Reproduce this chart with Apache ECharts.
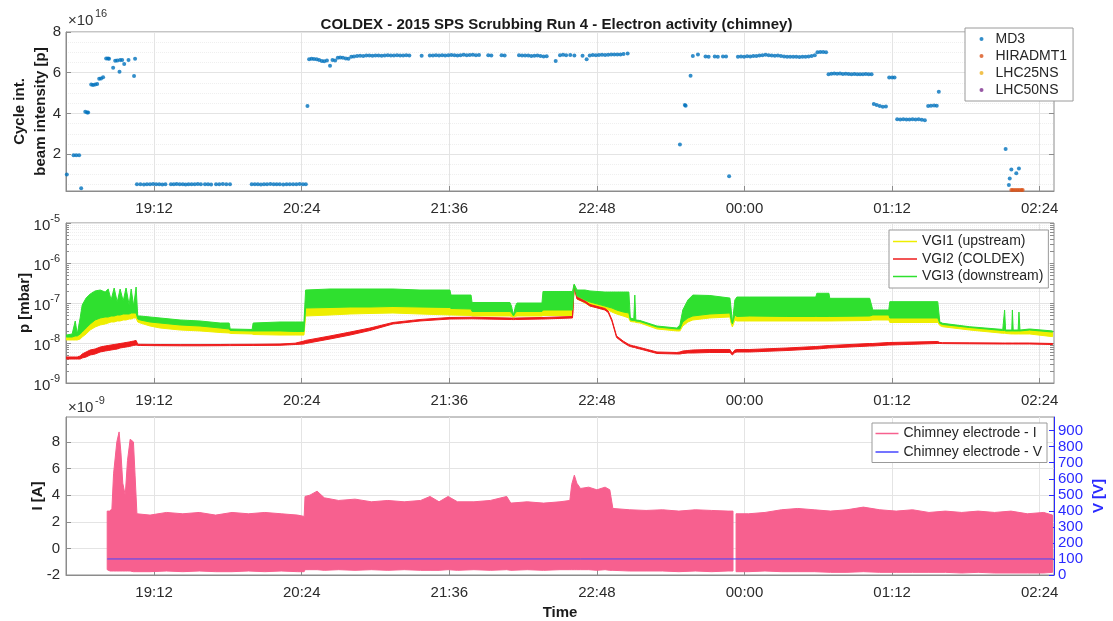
<!DOCTYPE html>
<html><head><meta charset="utf-8">
<script src="https://cdn.jsdelivr.net/npm/echarts@6/dist/echarts.min.js"></script>
<style>html,body{margin:0;padding:0;background:#fff}#c{width:1113px;height:621px}</style>
</head><body><div id="c"></div>
<script>
// ===================== DATA =====================
// time in minutes after midnight of the first day (24:00 = 1440)
const timeTicks = [1152, 1224, 1296, 1368, 1440, 1512, 1584];
const beamTicks = [2, 4, 6, 8];              // x1e16 p
const currentTicks = [-2, 0, 2, 4, 6, 8];    // x1e-9 A
const voltTicks = [0, 100, 200, 300, 400, 500, 600, 700, 800, 900];

// ---- Panel 1: cycle-integrated beam intensity (x1e16 p) ----
const md3Time = [
 1109.4,1112.7,1114.0,1115.4,1116.4,1118.4,1119.3,1119.8,1121.3,1122.2,1123.2,1124.2,1125.2,1126.1,1127.1,
 1128.6,1129.5,1130.0,1132.0,1133.0,1134.0,1135.1,1135.4,1136.4,1137.4,1139.5,1142.2,1142.7,
 1143.6,1145.3,1147.0,1148.5,1150.0,1151.5,1153.0,1154.5,1156.0,1157.5,1160.2,1161.6,1163.0,1164.5,1166.0,
 1167.4,1168.8,1170.3,1171.8,1173.3,1174.8,1176.8,1178.3,1179.8,1182.2,1183.8,1185.5,1187.2,1189.0,
 1199.6,1201.1,1202.6,1204.1,1205.6,1207.1,1208.7,1210.3,1211.8,1213.3,1215.0,1216.6,1218.2,1219.8,1221.4,
 1223.0,1224.6,1226.0,1226.8,
 1227.6,1228.8,1230.0,1231.3,1232.5,1233.8,1235.0,1236.3,1237.8,1239.0,1240.3,1241.6,1242.8,1244.1,1245.5,
 1246.8,1248.2,1249.5,1251.0,1252.5,1254.0,1255.5,1257.0,1258.5,1260,1261.5,1263,1264.5,1266,1267.5,1269,
 1270.5,1272,1273.5,1275,1276.5,1282.5,1286.5,1288,1289.5,1291,1292.5,1294,1295.5,1297,1298.5,1300,1301.5,
 1303,1304.5,1306,1307.5,1309,1310.5,1315,1316.5,1321.5,1323,1330,1331.5,1333,1334.5,1336,1337.5,1339,
 1340.5,1342,1343.5,1347.9,1350,1351.5,1353,1355,1357,1361,1363,1364.5,1366,1367.5,1369,1370.5,1372,
 1373.5,1375,1376.5,1378,1379.5,1381,1383,
 1408.5,1410.9,1411.3,1413.7,1414.8,1417.3,1421,1422.5,1425.5,1427,1429.5,1431,1432.5,
 1436.8,1438.3,1439.8,1441.3,1442.8,1444.3,1445.8,1447.3,1448.8,1450.3,1451.8,1453.3,1454.8,1456.3,1457.8,
 1459.3,1460.8,1462.3,1463.8,1465.3,1466.8,1468.3,1469.8,1471.3,1472.8,1474.3,1475.6,1477,1478.4,1479.8,
 1481,1482.4,1483.8,1485.2,1486.6,1488,1489.4,1490.8,1492.2,1493.6,1495,1496.4,1497.8,1499.2,1500.6,1502,
 1503.1,1504.5,1506,1507.5,1509,1510.6,1512,1513.2,
 1514.5,1516,1517.5,1519,1520.5,1522,1523.5,1525,1526.5,1528,1529.6,1531,1532.5,1533.8,1534.8,
 1567.4,1569.0,1569.4,1570.2,1572.6,1573.9
];
const md3Int = [
 1.0,1.95,1.95,1.95,0.32,4.08,4.05,4.05,5.42,5.40,5.42,5.45,5.70,5.72,5.78,
 6.70,6.70,6.68,6.25,6.59,6.60,6.05,6.62,6.63,6.43,6.62,5.84,6.69,
 0.52,0.52,0.51,0.52,0.52,0.53,0.52,0.52,0.51,0.52,0.52,0.52,0.53,0.52,0.52,
 0.51,0.52,0.52,0.52,0.53,0.52,0.52,0.52,0.51,0.52,0.52,0.53,0.52,0.52,
 0.52,0.52,0.52,0.51,0.52,0.52,0.53,0.52,0.52,0.52,0.51,0.52,0.52,0.52,0.52,
 0.53,0.52,0.52,4.36,
 6.66,6.68,6.67,6.66,6.62,6.58,6.56,6.60,6.34,6.62,6.60,6.74,6.75,6.74,6.70,
 6.68,6.78,6.80,6.82,6.83,6.82,6.84,6.84,6.83,6.84,6.85,6.83,6.85,6.86,6.84,6.85,
 6.86,6.84,6.85,6.86,6.84,6.83,6.84,6.85,6.86,6.84,6.86,6.85,6.86,6.87,6.86,6.85,6.86,
 6.88,6.86,6.87,6.88,6.86,6.87,6.86,6.85,6.86,6.84,6.86,6.85,6.84,6.85,6.82,6.83,6.84,
 6.82,6.80,6.81,6.57,6.86,6.88,6.86,6.87,6.85,6.83,6.66,6.85,6.87,6.86,6.87,6.88,6.87,
 6.88,6.89,6.90,6.89,6.90,6.92,6.94,
 2.48,4.41,4.38,5.85,6.82,6.90,6.80,6.78,6.80,6.79,6.80,6.80,0.92,
 6.78,6.80,6.79,6.81,6.80,6.82,6.82,6.84,6.86,6.88,6.86,6.84,6.83,6.84,6.82,
 6.80,6.78,6.78,6.79,6.78,6.77,6.78,6.79,6.80,6.82,6.86,7.00,7.02,7.02,7.00,
 5.92,5.95,5.96,5.95,5.96,5.94,5.95,5.94,5.93,5.94,5.93,5.92,5.93,5.94,5.93,5.92,
 4.46,4.42,4.36,4.33,4.34,5.77,5.76,5.77,
 3.72,3.70,3.71,3.70,3.70,3.71,3.70,3.71,3.69,3.66,4.36,4.38,4.39,4.38,5.07,
 2.25,0.48,0.81,1.25,1.06,1.30
];
const hiradTime = [1570.2, 1571.0, 1572.0, 1573.0, 1574.0, 1575.0, 1575.7];
const hiradInt  = [0.24, 0.24, 0.24, 0.24, 0.24, 0.24, 0.24];
const lhc25Time = [], lhc25Int = [];
const lhc50Time = [], lhc50Int = [];

// ---- Panel 2: pressures (mbar); noisy gauges given as lower/upper envelopes ----
const pTime = [
 1109.1,1112.0,1113.5,1114.5,1115.9,1116.9,1118.8,1120.8,1123.2,1125.7,1128.1,1129.6,1131.0,1132.5,1134.0,
 1135.4,1136.9,1138.3,1139.8,1140.8,1142.0,1143.2,1144.0,1145.2,1150.0,1154.9,1164.7,1174.4,1184.2,1188.6,
 1189.1,1199.8,1200.3,1213.4,1220.8,1225.1,1225.9,1237.8,1247.6,1257.3,1268.5,1281.7,1296.3,1296.8,1306.6,
 1307.1,1325.6,1326.3,1327.3,1328.3,1329.0,1341.2,1341.7,1356.1,1356.9,1358.3,1362.2,1364.6,1371.9,1373.5,
 1375.3,1377.6,1380.8,1383.6,1384.3,1386.0,1386.5,1387.0,1389.0,1397.3,1407.0,1408.5,1409.9,1412.4,1414.8,
 1423.1,1432.9,1433.3,1434.1,1435.3,1436.3,1442.6,1460.7,1474.8,1475.3,1481.2,1481.6,1501.1,1502.6,1510.4,
 1510.9,1534.3,1535.3,1536.7,1549.9,1566.0,1566.9,1567.4,1570.4,1570.7,1571.1,1573.5,1573.9,1574.4,1579.1,
 1590.3
];
const vgi3Hi = [
 1.58e-8,1.68e-8,3.55e-8,1.68e-8,4.22e-8,8.91e-8,1.33e-7,1.68e-7,2.00e-7,2.11e-7,1.88e-7,2.24e-7,1.19e-7,2.37e-7,1.06e-7,
 2.24e-7,1.12e-7,2.37e-7,8.91e-8,2.24e-7,8.41e-8,2.51e-7,4.73e-8,4.73e-8,4.47e-8,4.22e-8,3.76e-8,3.55e-8,3.16e-8,3.16e-8,
 2.24e-8,2.18e-8,3.16e-8,3.35e-8,3.35e-8,3.35e-8,2.11e-7,2.24e-7,2.24e-7,2.24e-7,2.24e-7,2.11e-7,2.11e-7,1.58e-7,1.58e-7,
 1.03e-7,1.03e-7,8.41e-8,5.01e-8,8.41e-8,1.00e-7,1.00e-7,1.94e-7,1.94e-7,2.99e-7,2.11e-7,2.11e-7,2.00e-7,1.88e-7,1.88e-7,
 1.88e-7,1.88e-7,1.88e-7,1.88e-7,4.22e-8,3.98e-8,1.58e-7,3.76e-8,3.65e-8,2.66e-8,2.37e-8,2.82e-8,6.68e-8,1.19e-7,1.58e-7,
 1.54e-7,1.33e-7,8.91e-8,3.16e-8,1.19e-7,1.41e-7,1.41e-7,1.41e-7,1.41e-7,1.75e-7,1.75e-7,1.31e-7,1.31e-7,6.68e-8,6.68e-8,
 1.08e-7,1.08e-7,3.35e-8,3.11e-8,2.55e-8,2.18e-8,6.68e-8,2.11e-8,2.11e-8,6.68e-8,2.11e-8,2.11e-8,5.96e-8,2.11e-8,2.24e-8,
 2.00e-8
];
const vgi3Lo = [
 1.41e-8,1.41e-8,1.50e-8,1.50e-8,1.68e-8,1.88e-8,2.37e-8,2.99e-8,3.76e-8,4.22e-8,4.47e-8,4.47e-8,4.73e-8,4.73e-8,5.01e-8,
 5.01e-8,5.31e-8,5.31e-8,5.31e-8,5.62e-8,5.62e-8,5.62e-8,3.98e-8,3.76e-8,3.35e-8,3.16e-8,2.82e-8,2.66e-8,2.37e-8,2.24e-8,
 2.05e-8,2.00e-8,2.00e-8,2.00e-8,1.94e-8,1.94e-8,7.50e-8,7.72e-8,7.94e-8,7.94e-8,8.18e-8,7.94e-8,7.72e-8,7.29e-8,7.08e-8,
 6.13e-8,6.13e-8,5.79e-8,4.73e-8,5.79e-8,6.13e-8,6.13e-8,6.68e-8,6.68e-8,2.66e-7,1.50e-7,1.19e-7,1.06e-7,8.41e-8,7.94e-8,
 7.50e-8,6.68e-8,5.96e-8,5.62e-8,3.76e-8,3.65e-8,3.65e-8,3.55e-8,3.45e-8,2.51e-8,2.24e-8,2.24e-8,3.35e-8,4.22e-8,4.73e-8,
 5.31e-8,5.62e-8,4.22e-8,2.99e-8,5.01e-8,4.60e-8,4.73e-8,4.60e-8,4.60e-8,4.60e-8,4.60e-8,4.60e-8,4.73e-8,5.01e-8,5.01e-8,
 4.22e-8,4.22e-8,3.08e-8,2.90e-8,2.44e-8,2.05e-8,2.05e-8,2.00e-8,2.00e-8,2.00e-8,2.00e-8,2.00e-8,2.00e-8,2.00e-8,2.11e-8,
 1.88e-8
];
const vgi1Hi = vgi3Lo; // upstream band reaches up to the downstream band
const vgi1Lo = [
 1.19e-8,1.19e-8,1.19e-8,1.19e-8,1.26e-8,1.41e-8,1.68e-8,2.11e-8,2.51e-8,2.82e-8,2.99e-8,3.16e-8,3.35e-8,3.35e-8,3.55e-8,
 3.55e-8,3.76e-8,3.76e-8,3.98e-8,3.98e-8,4.22e-8,4.22e-8,3.35e-8,3.16e-8,2.66e-8,2.37e-8,2.11e-8,2.00e-8,1.83e-8,1.78e-8,
 1.73e-8,1.68e-8,1.63e-8,1.58e-8,1.58e-8,1.58e-8,4.73e-8,5.01e-8,5.31e-8,5.47e-8,5.62e-8,5.31e-8,5.01e-8,5.01e-8,4.87e-8,
 4.73e-8,4.73e-8,4.60e-8,4.35e-8,4.60e-8,4.73e-8,4.73e-8,4.87e-8,4.87e-8,2.51e-7,1.26e-7,1.00e-7,8.41e-8,7.08e-8,6.68e-8,
 5.96e-8,5.31e-8,4.73e-8,4.22e-8,3.45e-8,3.35e-8,3.35e-8,3.26e-8,3.16e-8,2.24e-8,2.00e-8,2.00e-8,2.66e-8,3.35e-8,3.76e-8,
 4.22e-8,4.47e-8,3.35e-8,2.51e-8,3.76e-8,3.55e-8,3.55e-8,3.55e-8,3.55e-8,3.55e-8,3.55e-8,3.55e-8,3.65e-8,3.76e-8,3.76e-8,
 3.26e-8,3.26e-8,2.74e-8,2.55e-8,2.11e-8,1.75e-8,1.75e-8,1.73e-8,1.68e-8,1.68e-8,1.68e-8,1.68e-8,1.68e-8,1.68e-8,1.68e-8,
 1.44e-8
];
const vgi2Hi = [
 4.47e-9,4.47e-9,4.47e-9,4.47e-9,4.73e-9,5.31e-9,5.96e-9,6.68e-9,7.08e-9,7.94e-9,8.41e-9,8.66e-9,8.91e-9,9.17e-9,9.44e-9,
 9.72e-9,1.00e-8,1.03e-8,1.06e-8,1.09e-8,1.12e-8,1.16e-8,9.33e-9,9.28e-9,9.23e-9,9.17e-9,9.12e-9,9.12e-9,9.17e-9,9.23e-9,
 9.23e-9,9.28e-9,9.28e-9,9.44e-9,9.89e-9,1.12e-8,1.16e-8,1.50e-8,1.88e-8,2.37e-8,3.26e-8,3.87e-8,4.35e-8,4.35e-8,4.40e-8,
 4.40e-8,4.22e-8,4.22e-8,4.17e-8,4.22e-8,4.22e-8,4.35e-8,4.35e-8,4.60e-8,2.82e-7,1.41e-7,1.12e-7,9.17e-8,7.29e-8,6.31e-8,
 3.87e-8,1.50e-8,1.12e-8,9.17e-9,8.91e-9,8.41e-9,8.41e-9,8.18e-9,7.72e-9,5.96e-9,5.79e-9,5.96e-9,6.31e-9,6.49e-9,6.68e-9,
 6.88e-9,6.88e-9,6.31e-9,5.62e-9,6.68e-9,6.88e-9,6.88e-9,7.50e-9,8.18e-9,8.18e-9,8.66e-9,8.66e-9,9.72e-9,9.72e-9,1.03e-8,
 1.03e-8,1.09e-8,1.03e-8,1.02e-8,1.01e-8,1.00e-8,1.00e-8,1.00e-8,1.00e-8,1.00e-8,1.00e-8,1.00e-8,1.00e-8,1.00e-8,1.00e-8,
 9.72e-9
];
const vgi2Lo = [
 3.98e-9,3.98e-9,3.98e-9,3.98e-9,3.98e-9,4.22e-9,4.47e-9,5.01e-9,5.31e-9,5.96e-9,6.31e-9,6.49e-9,6.68e-9,6.88e-9,7.08e-9,
 7.50e-9,7.72e-9,7.94e-9,8.18e-9,8.41e-9,8.66e-9,8.91e-9,8.71e-9,8.66e-9,8.61e-9,8.56e-9,8.51e-9,8.51e-9,8.56e-9,8.61e-9,
 8.61e-9,8.66e-9,8.66e-9,8.76e-9,9.17e-9,9.44e-9,9.72e-9,1.26e-8,1.58e-8,2.05e-8,2.99e-8,3.55e-8,3.98e-8,3.98e-8,4.03e-8,
 4.03e-8,3.87e-8,3.87e-8,3.85e-8,3.87e-8,3.87e-8,3.98e-8,3.98e-8,4.22e-8,2.51e-7,1.26e-7,1.03e-7,8.41e-8,6.68e-8,5.79e-8,
 3.55e-8,1.37e-8,1.03e-8,8.41e-9,8.18e-9,7.72e-9,7.72e-9,7.50e-9,7.08e-9,5.47e-9,5.31e-9,5.31e-9,5.47e-9,5.62e-9,5.62e-9,
 5.79e-9,5.79e-9,5.47e-9,5.01e-9,5.79e-9,5.96e-9,5.96e-9,6.49e-9,7.08e-9,7.08e-9,7.50e-9,7.50e-9,8.41e-9,8.41e-9,8.91e-9,
 8.91e-9,9.72e-9,9.72e-9,9.66e-9,9.55e-9,9.44e-9,9.44e-9,9.44e-9,9.44e-9,9.44e-9,9.44e-9,9.44e-9,9.44e-9,9.44e-9,9.44e-9,
 9.17e-9
];

// ---- Panel 3: chimney electrode current envelope (x1e-9 A) and voltage (V) ----
const iTime = [
 1129.1,1130.5,1131.4,1132.2,1133.8,1134.9,1135.8,1136.7,1137.9,1139.0,1140.3,1141.9,1142.7,1143.6,1150,
 1158,1166,1174,1182,1190,1198,1206,1214,1222,1225.2,1225.6,1228,1231.5,1235,1242,1250,1258,1266,1274,
 1282,1286.6,1291,1295.4,1300,1308,1316,1324,1326,1334,1342,1350,1354.8,1355.7,1357.0,1358.2,1360,1364,
 1368,1372,1374.3,1375.8,1384,1392,1400,1408,1416,1424,1432,1434.4,1434.6,1435.7,1435.9,1442,1450,1458,
 1466,1474,1482,1490,1498,1506,1514,1522,1530,1538,1546,1554,1562,1570,1578,1586,1590.3
];
const iHi = [
 2.8,2.8,3.0,5.6,8.0,8.75,7.2,4.9,4.0,6.6,8.2,8.0,5.5,2.6,2.5,
 2.7,2.6,2.7,2.5,2.7,2.6,2.7,2.6,2.5,2.4,3.9,4.0,4.3,3.8,3.6,3.7,3.5,3.6,3.5,
 3.6,3.9,3.5,3.9,3.5,3.5,3.6,3.9,3.4,3.5,3.4,3.5,3.6,4.8,5.5,4.9,4.5,4.6,
 4.4,4.6,4.4,3.0,2.9,2.85,2.9,2.8,2.9,2.85,2.8,2.8,null,null,2.6,2.6,2.7,2.9,
 3.0,2.9,2.8,2.9,3.1,2.9,2.8,2.9,2.7,2.8,2.7,2.8,2.7,2.8,2.6,2.7,2.5
];
const iLo = [
 -1.6,-1.7,-1.7,-1.7,-1.7,-1.7,-1.7,-1.7,-1.7,-1.7,-1.7,-1.75,-1.75,-1.75,-1.75,
 -1.7,-1.75,-1.7,-1.75,-1.75,-1.7,-1.75,-1.7,-1.75,-1.75,-1.6,-1.6,-1.6,-1.65,-1.6,-1.65,-1.6,-1.65,-1.6,
 -1.65,-1.65,-1.65,-1.6,-1.65,-1.6,-1.65,-1.6,-1.65,-1.6,-1.65,-1.6,-1.6,-1.6,-1.6,-1.6,-1.6,-1.6,
 -1.65,-1.6,-1.65,-1.65,-1.7,-1.7,-1.7,-1.75,-1.7,-1.75,-1.7,-1.7,null,null,-1.75,-1.75,-1.7,-1.75,
 -1.75,-1.75,-1.8,-1.8,-1.75,-1.8,-1.8,-1.8,-1.8,-1.8,-1.85,-1.8,-1.85,-1.85,-1.85,-1.85,-1.8
];
const vTime = [1129.1, 1590.8];
const vVolt = [100, 100];

// ===================== STYLE / BUILD =====================
const FONT = '"Liberation Sans", Arial, Helvetica, sans-serif';
const AXC = '#8c8c8c', GRIDC = '#e4e4e4', MINC = '#efefef', TXT = '#2b2b2b';
const X_MIN = 1109, X_MAX = 1591;
const C = { md3:'#0072bd', hirad:'#d95319', lhc25:'#edb120', lhc50:'#7e2f8e',
  vgi1:'#eeee00', vgi2:'#ee1c1c', vgi3:'#2fe02f', cur:'#f7608f', volt:'#4646ff', vaxis:'#2a2aff' };

function fmtTime(v){ const m = ((Math.round(v) % 1440) + 1440) % 1440;
  return String(Math.floor(m/60)).padStart(2,'0') + ':' + String(m%60).padStart(2,'0'); }
const pairs = (t, v) => t.map((x, i) => [x, v[i]]);

const beamMinor = []; for (let k = 1; k <= 16; k++) { const v = k*0.5; if (v % 2 !== 0) beamMinor.push(v); }
const logMinor = []; for (let n = -9; n < -5; n++) for (let k = 2; k <= 9; k++) logMinor.push(n + Math.log10(k));
const logAll = logMinor.concat([-9,-8,-7,-6,-5]);

function mkX(i, extra){ return Object.assign({
  type:'value', gridIndex:i, min:X_MIN, max:X_MAX, nameMoveOverlap:false,
  axisLine:{show:true, onZero:false, lineStyle:{color:AXC}},
  axisTick:{show:true, inside:true, length:5, customValues:timeTicks, lineStyle:{color:AXC}},
  axisLabel:{customValues:timeTicks, formatter:fmtTime, fontSize:15, color:TXT, margin:10, fontFamily:FONT},
  splitLine:{show:true, lineStyle:{color:GRIDC}}
}, extra||{}); }

// envelope band (noisy signal): polygon between lower and upper envelope, positioned with api.coord
function band(name, t, lo, hi, color, xi, yi){
  return {
    name:name, type:'custom', xAxisIndex:xi, yAxisIndex:yi, silent:true,
    itemStyle:{color:color},
    encode:{x:0, y:1},
    data:[[t[0], hi[0]]],
    renderItem:function(params, api){
      const children = []; let seg = [];
      const flush = function(){
        if (seg.length > 1) {
          const up = seg.map(i => api.coord([t[i], hi[i]]));
          const dn = seg.slice().reverse().map(i => api.coord([t[i], lo[i]]));
          children.push({type:'polygon', shape:{points:up.concat(dn)},
            style:{fill:color, stroke:color, lineWidth:1}});
        }
        seg = [];
      };
      for (let i = 0; i < t.length; i++) { if (hi[i] == null || lo[i] == null) flush(); else seg.push(i); }
      flush();
      const cs = params.coordSys;
      return {type:'group', children:children,
        clipPath:{type:'rect', shape:{x:cs.x, y:cs.y, width:cs.width, height:cs.height}}};
    }
  };
}

const nameStyle = {fontSize:15, fontWeight:'bold', color:'#1a1a1a', fontFamily:FONT};
const gridBase = {left:66, right:59, show:true, borderColor:AXC, borderWidth:1, containLabel:false, outerBoundsMode:'none'};

const option = {
  animation:false,
  textStyle:{fontFamily:FONT},
  title:{text:'COLDEX - 2015 SPS Scrubbing Run 4 - Electron activity (chimney)', left:'center', top:12,
    textStyle:{fontSize:15, fontWeight:'bold', color:'#1a1a1a', fontFamily:FONT}},
  grid:[
    Object.assign({top:32, height:159}, gridBase),
    Object.assign({top:223, height:160}, gridBase),
    Object.assign({top:417, height:158}, gridBase)
  ],
  xAxis:[ mkX(0), mkX(1),
    mkX(2, {name:'Time', nameLocation:'middle', nameGap:30, nameTextStyle:nameStyle}) ],
  yAxis:[
    // 0: panel 1 main
    {type:'value', gridIndex:0, min:0.19, max:8, nameMoveOverlap:false,
      name:'Cycle int.\nbeam intensity [p]', nameLocation:'middle', nameRotate:90, nameGap:15,
      nameTextStyle:Object.assign({lineHeight:21}, nameStyle),
      axisLine:{show:true, onZero:false, lineStyle:{color:AXC}},
      axisTick:{show:true, inside:true, length:5, customValues:beamTicks, lineStyle:{color:AXC}},
      axisLabel:{customValues:beamTicks, fontSize:15, color:TXT, margin:5},
      splitLine:{show:true, lineStyle:{color:GRIDC}}},
    // 1: panel 1 minor grid
    {type:'value', gridIndex:0, min:0.19, max:8, position:'left',
      axisLine:{show:false}, axisLabel:{show:false},
      axisTick:{show:false, customValues:beamMinor},
      splitLine:{show:true, lineStyle:{color:MINC, type:'dotted'}}},
    // 2: panel 2 main log axis
    {type:'log', logBase:10, gridIndex:1, min:1e-9, max:1e-5, nameMoveOverlap:false,
      name:'p [mbar]', nameLocation:'middle', nameRotate:90, nameGap:34, nameTextStyle:nameStyle,
      axisLine:{show:true, onZero:false, lineStyle:{color:AXC}},
      axisTick:{show:true, inside:true, length:5, lineStyle:{color:AXC}},
      axisLabel:{fontSize:15, color:TXT, margin:6,
        formatter: v => '{b|10}{s|' + Math.round(Math.log10(v)) + '}',
        rich:{b:{fontSize:15, lineHeight:20, verticalAlign:'bottom', color:TXT},
              s:{fontSize:11, lineHeight:11, verticalAlign:'top', color:TXT}}},
      splitLine:{show:true, lineStyle:{color:GRIDC}}},
    // 3: panel 2 minor grid (decade subdivisions)
    {type:'value', gridIndex:1, min:-9, max:-5, position:'left',
      axisLine:{show:false}, axisLabel:{show:false},
      axisTick:{show:true, inside:true, length:3, customValues:logMinor, lineStyle:{color:AXC}},
      splitLine:{show:true, lineStyle:{color:MINC, type:'dotted'}}},
    // 4: panel 3 current
    {type:'value', gridIndex:2, min:-2, max:9.87, nameMoveOverlap:false,
      name:'I [A]', nameLocation:'middle', nameRotate:90, nameGap:21, nameTextStyle:nameStyle,
      axisLine:{show:true, onZero:false, lineStyle:{color:AXC}},
      axisTick:{show:true, inside:true, length:5, customValues:currentTicks, lineStyle:{color:AXC}},
      axisLabel:{customValues:currentTicks, fontSize:15, color:TXT, margin:6},
      splitLine:{show:true, lineStyle:{color:GRIDC}}},
    // 5: panel 3 voltage (right)
    {type:'value', gridIndex:2, min:0, max:985, position:'right', nameMoveOverlap:false,
      name:'V [V]', nameLocation:'middle', nameRotate:90, nameGap:37,
      nameTextStyle:Object.assign({}, nameStyle, {color:C.vaxis}),
      axisLine:{show:true, onZero:false, lineStyle:{color:C.vaxis}},
      axisTick:{show:true, inside:true, length:5, customValues:voltTicks, lineStyle:{color:C.vaxis}},
      axisLabel:{customValues:voltTicks, fontSize:15, color:C.vaxis, margin:4},
      splitLine:{show:false}},
    // 6: panel 1 right-side ticks (box)
    {type:'value', gridIndex:0, min:0.19, max:8, position:'right',
      axisLine:{show:false}, axisLabel:{show:false}, splitLine:{show:false},
      axisTick:{show:true, inside:true, length:5, customValues:beamTicks, lineStyle:{color:AXC}}},
    // 7: panel 2 right-side ticks (box)
    {type:'value', gridIndex:1, min:-9, max:-5, position:'right',
      axisLine:{show:false}, axisLabel:{show:false}, splitLine:{show:false},
      axisTick:{show:true, inside:true, length:4, customValues:logAll, lineStyle:{color:AXC}}}
  ],
  legend:[
    {data:['MD3','HIRADMT1','LHC25NS','LHC50NS'], left:965, top:28, orient:'vertical',
      icon:'circle', itemWidth:4, itemHeight:4, itemGap:3, padding:[4,6,4,14.5], selectedMode:false,
      backgroundColor:'#fff', borderColor:'#9a9a9a', borderWidth:1,
      textStyle:{fontSize:14, color:'#262626', fontFamily:FONT, padding:[0,0,0,7]}},
    {data:['VGI1 (upstream)','VGI2 (COLDEX)','VGI3 (downstream)'], left:889, top:230, orient:'vertical',
      icon:'rect', itemWidth:24, itemHeight:1.5, symbolKeepAspect:false, itemGap:3.5, padding:[4.5,5,4.5,4],
      selectedMode:false, backgroundColor:'#fff', borderColor:'#9a9a9a', borderWidth:1,
      textStyle:{fontSize:14, color:'#262626', fontFamily:FONT}},
    {data:['Chimney electrode - I','Chimney electrode - V'], left:872, top:423, orient:'vertical',
      icon:'rect', itemWidth:23, itemHeight:1.5, symbolKeepAspect:false, itemGap:4.5, padding:[3.5,5,3.5,3.5],
      selectedMode:false, backgroundColor:'#fff', borderColor:'#9a9a9a', borderWidth:1,
      textStyle:{fontSize:14, color:'#262626', fontFamily:FONT}}
  ],
  graphic:[
    {type:'text', left:68, top:13, style:{text:'×10', fontSize:15, fill:'#333', fontFamily:FONT}},
    {type:'text', left:95, top:8, style:{text:'16', fontSize:11, fill:'#333', fontFamily:FONT}},
    {type:'text', left:68, top:400, style:{text:'×10', fontSize:15, fill:'#333', fontFamily:FONT}},
    {type:'text', left:95, top:395, style:{text:'-9', fontSize:11, fill:'#333', fontFamily:FONT}}
  ],
  series:[
    {name:'MD3', type:'scatter', xAxisIndex:0, yAxisIndex:0, symbolSize:4, itemStyle:{color:C.md3}, data:pairs(md3Time, md3Int)},
    {name:'HIRADMT1', type:'scatter', xAxisIndex:0, yAxisIndex:0, symbolSize:4, itemStyle:{color:C.hirad}, data:pairs(hiradTime, hiradInt)},
    {name:'LHC25NS', type:'scatter', xAxisIndex:0, yAxisIndex:0, symbolSize:4, itemStyle:{color:C.lhc25}, data:pairs(lhc25Time, lhc25Int)},
    {name:'LHC50NS', type:'scatter', xAxisIndex:0, yAxisIndex:0, symbolSize:4, itemStyle:{color:C.lhc50}, data:pairs(lhc50Time, lhc50Int)},
    band('VGI1 (upstream)', pTime, vgi1Lo, vgi1Hi, C.vgi1, 1, 2),
    band('VGI2 (COLDEX)', pTime, vgi2Lo, vgi2Hi, C.vgi2, 1, 2),
    band('VGI3 (downstream)', pTime, vgi3Lo, vgi3Hi, C.vgi3, 1, 2),
    band('Chimney electrode - I', iTime, iLo, iHi, C.cur, 2, 4),
    {name:'Chimney electrode - V', type:'line', xAxisIndex:2, yAxisIndex:5, symbol:'none', showSymbol:false,
      lineStyle:{color:C.volt, width:1}, itemStyle:{color:C.volt}, data:pairs(vTime, vVolt)}
  ]
};
const chart = echarts.init(document.getElementById('c'), null, {renderer:'canvas'});
chart.setOption(option);
</script>
</body></html>
